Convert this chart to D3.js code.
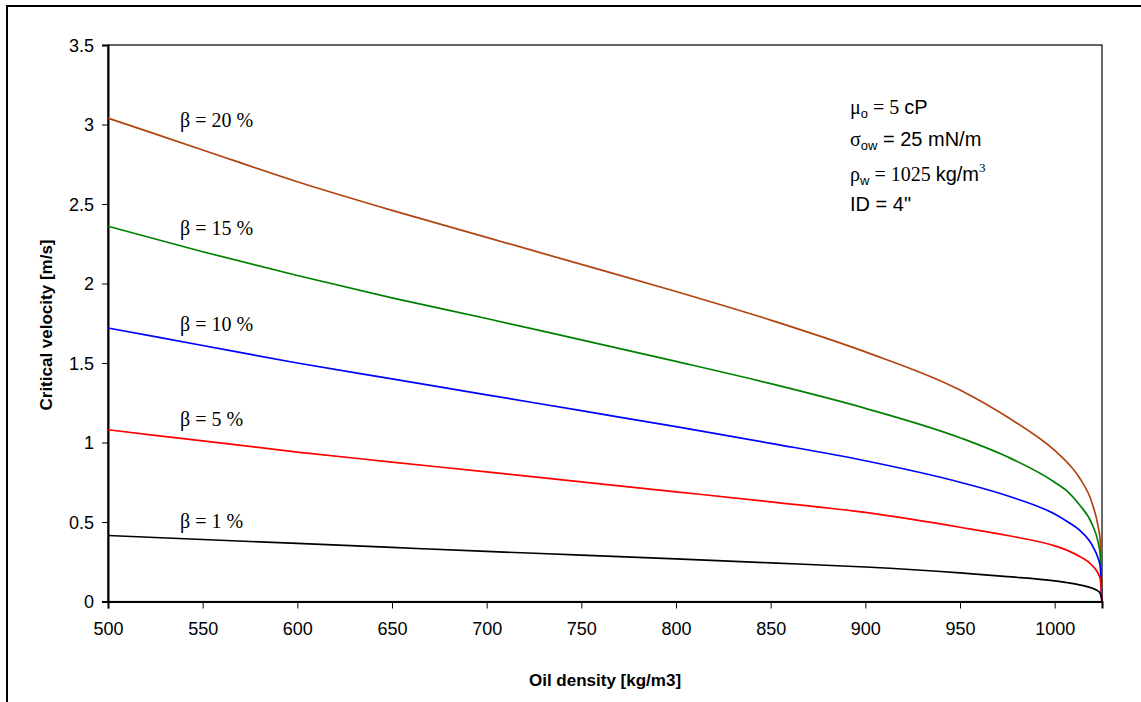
<!DOCTYPE html>
<html>
<head>
<meta charset="utf-8">
<script src="https://cdn.jsdelivr.net/npm/d3@7"></script>
<style>
  body { margin: 0; background: #fff; }
  .tick text { font-family: Arial, "Liberation Sans", sans-serif; font-size: 18px; fill: #000; }
</style>
</head>
<body>
<div id="chart"></div>
<script>
//---------------------- data -----------------------//
var density = [500, 550, 600, 650, 700, 750, 800, 850, 900, 950, 975, 1000, 1007, 1013, 1020, 1023, 1024, 1025];
var beta20 = [3.04, 2.84, 2.64, 2.46, 2.29, 2.12, 1.95, 1.77, 1.57, 1.33, 1.16, 0.95, 0.87, 0.78, 0.61, 0.47, 0.39, 0];
var beta15 = [2.36, 2.20, 2.05, 1.91, 1.78, 1.645, 1.51, 1.37, 1.215, 1.03, 0.91, 0.75, 0.69, 0.61, 0.48, 0.37, 0.30, 0];
var beta10 = [1.72, 1.61, 1.50, 1.40, 1.30, 1.20, 1.10, 0.995, 0.885, 0.75, 0.665, 0.55, 0.50, 0.45, 0.35, 0.27, 0.225, 0];
var beta5  = [1.08, 1.01, 0.94, 0.877, 0.815, 0.752, 0.69, 0.627, 0.56, 0.467, 0.415, 0.35, 0.32, 0.285, 0.225, 0.175, 0.145, 0];
var beta1  = [0.415, 0.39, 0.365, 0.34, 0.315, 0.292, 0.268, 0.243, 0.217, 0.18, 0.157, 0.13, 0.118, 0.105, 0.083, 0.065, 0.053, 0];

var seriesNames  = ['β = 20 %', 'β = 15 %', 'β = 10 %', 'β = 5 %', 'β = 1 %'];
var seriesColors = ['#b0440f', '#008000', '#0000ff', '#ff0000', '#000000'];
var labelY       = [127, 235, 331, 426, 528];   // baselines of the beta labels (px)

var xTicks = [500, 550, 600, 650, 700, 750, 800, 850, 900, 950, 1000];
var yTicks = [0, 0.5, 1, 1.5, 2, 2.5, 3, 3.5];
//--------------------------------------------------//

//------------------ svg element -------------------//
var width = 1141, height = 702;
var plotL = 108, plotR = 1102, plotT = 45, plotB = 601.5;

var svg = d3.select('#chart').append('svg')
            .attr('width', width)
            .attr('height', height);

// outer chart frame (only top/left visible)
svg.append('rect')
   .attr('x', 7).attr('y', 6)
   .attr('width', 1200).attr('height', 800)
   .attr('fill', 'none')
   .attr('stroke', '#000')
   .attr('stroke-width', 2);
//--------------------------------------------------//

//--------------------- scales ---------------------//
var x = d3.scaleLinear().domain([500, 1025]).range([plotL, plotR]);
var y = d3.scaleLinear().domain([0, 3.5]).range([plotB, plotT]);
//--------------------------------------------------//

// plot border
svg.append('rect')
   .attr('x', plotL).attr('y', plotT)
   .attr('width', plotR - plotL).attr('height', plotB - plotT)
   .attr('fill', 'none')
   .attr('stroke', '#000')
   .attr('stroke-width', 1.2);

//---------------------- axes ----------------------//
var xAxis = svg.append('g')
   .attr('transform', 'translate(0,' + plotB + ')')
   .call(d3.axisBottom(x).tickValues(xTicks).tickSize(7).tickPadding(14).tickFormat(function(d){ return d; }));

var yAxis = svg.append('g')
   .attr('transform', 'translate(' + plotL + ',0)')
   .call(d3.axisLeft(y).tickValues(yTicks).tickSize(6).tickPadding(8).tickFormat(function(d){ return d; }));

[xAxis, yAxis].forEach(function(a){
  a.select('.domain').attr('stroke', '#000').attr('stroke-width', 2);
  a.selectAll('.tick line').attr('stroke', '#000');
});
yAxis.selectAll('.tick text').attr('dy', '0.36em');

svg.append('text')
   .attr('x', (plotL + plotR) / 2).attr('y', 686)
   .attr('text-anchor', 'middle')
   .style('font-family', 'Arial, "Liberation Sans", sans-serif')
   .style('font-weight', 'bold').style('font-size', '17px')
   .text('Oil density [kg/m3]');

svg.append('text')
   .attr('transform', 'translate(52,325) rotate(-90)')
   .attr('text-anchor', 'middle')
   .style('font-family', 'Arial, "Liberation Sans", sans-serif')
   .style('font-weight', 'bold').style('font-size', '17px')
   .text('Critical velocity [m/s]');
//--------------------------------------------------//

//--------------------- curves ---------------------//
var allSeries = [beta20, beta15, beta10, beta5, beta1];
var line = d3.line()
   .x(function(d){ return x(d[0]); })
   .y(function(d){ return y(d[1]); })
   .curve(d3.curveMonotoneX);

allSeries.forEach(function(vals, i){
  svg.append('path')
     .datum(density.map(function(d, j){ return [d, vals[j]]; }))
     .attr('d', line)
     .attr('fill', 'none')
     .attr('stroke', seriesColors[i])
     .attr('stroke-width', 1.7);

  svg.append('text')
     .attr('x', 180).attr('y', labelY[i])
     .style('font-family', '"Times New Roman", "Liberation Serif", serif')
     .style('font-size', '20px')
     .text(seriesNames[i]);
});
//--------------------------------------------------//

//------------------- annotation -------------------//
var sans = 'Arial, "Liberation Sans", sans-serif';
var serif = '"Times New Roman", "Liberation Serif", serif';
var note = svg.append('g').attr('transform', 'translate(850,0)');

var t1 = note.append('text').attr('y', 114).style('font-size', '20px');
t1.append('tspan').style('font-family', serif).text('μ');
t1.append('tspan').style('font-family', sans).style('font-size', '13px').attr('dy', 4).text('o');
t1.append('tspan').style('font-family', serif).attr('dy', -4).text(' = 5 ');
t1.append('tspan').style('font-family', sans).text('cP');

var t2 = note.append('text').attr('y', 146).style('font-size', '20px');
t2.append('tspan').style('font-family', serif).text('σ');
t2.append('tspan').style('font-family', sans).style('font-size', '13px').attr('dy', 4).text('ow');
t2.append('tspan').style('font-family', sans).attr('dy', -4).text(' = 25 mN/m');

var t3 = note.append('text').attr('y', 181).style('font-size', '20px');
t3.append('tspan').style('font-family', serif).text('ρ');
t3.append('tspan').style('font-family', sans).style('font-size', '13px').attr('dy', 4).text('w');
t3.append('tspan').style('font-family', serif).attr('dy', -4).text(' = 1025 ');
t3.append('tspan').style('font-family', sans).text('kg/m');
t3.append('tspan').style('font-family', serif).style('font-size', '13px').attr('dy', -9).text('3');

var t4 = note.append('text').attr('y', 211).style('font-size', '20px');
t4.append('tspan').style('font-family', sans).text('ID = 4"');
//--------------------------------------------------//
</script>
</body>
</html>
